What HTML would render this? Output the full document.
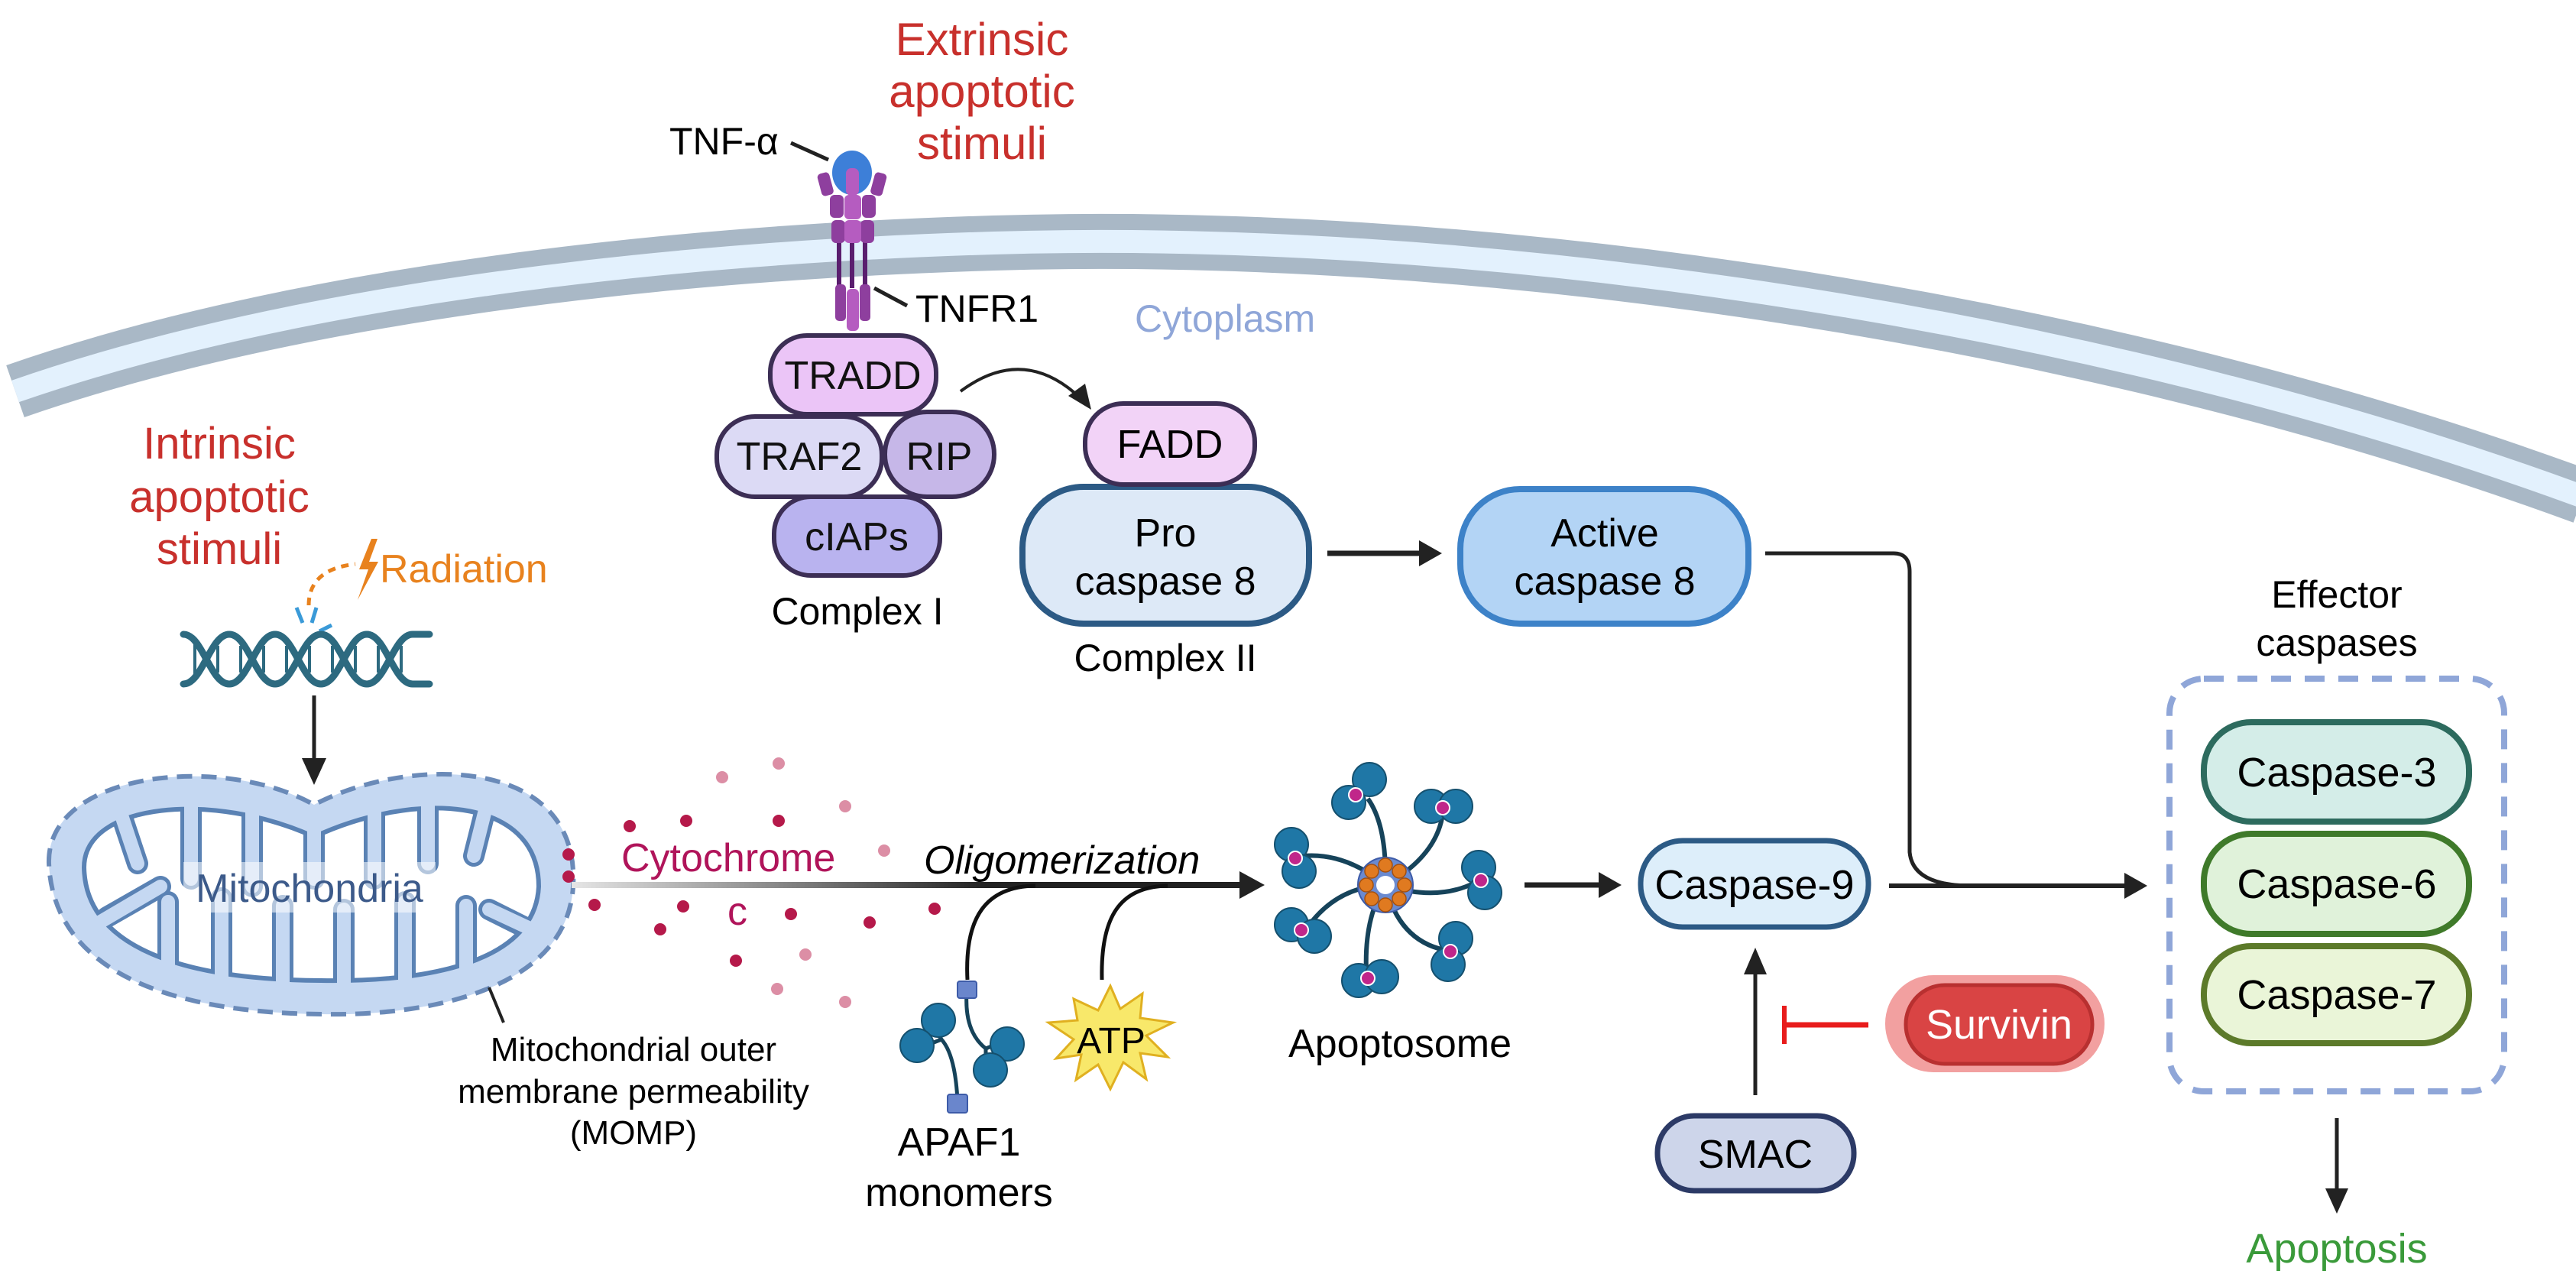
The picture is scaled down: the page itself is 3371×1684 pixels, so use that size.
<!DOCTYPE html>
<html><head><meta charset="utf-8"><style>
html,body{margin:0;padding:0;background:#fff;}
svg{display:block;}
text{font-family:"Liberation Sans",sans-serif;}
</style></head><body>
<svg width="3371" height="1684" viewBox="0 0 3371 1684" xmlns="http://www.w3.org/2000/svg">
<defs>
<linearGradient id="ag" x1="748" y1="0" x2="1653" y2="0" gradientUnits="userSpaceOnUse">
<stop offset="0" stop-color="#e6e6e6"/><stop offset="0.35" stop-color="#777"/><stop offset="0.6" stop-color="#222"/><stop offset="1" stop-color="#222"/></linearGradient>
<clipPath id="inner"><path d="M110 1135 C110 1050 280 1035 411 1095 C540 1035 705 1040 705 1160 C700 1260 560 1285 420 1283 C240 1282 112 1240 110 1135 Z"/></clipPath>
<clipPath id="outer"><path d="M68 1130 C64 1014 290 990 411 1057 C530 994 756 989 746 1160 C738 1291 560 1326 420 1323 C220 1321 74 1266 68 1130 Z"/></clipPath>
</defs>

<!-- membrane -->
<path d="M20 512 C400 380 900 330 1300 318 C1900 300 2700 400 3380 650" fill="none" stroke="#a9b8c6" stroke-width="72"/>
<path d="M20 512 C400 380 900 330 1300 318 C1900 300 2700 400 3380 650" fill="none" stroke="#e3f1fd" stroke-width="30"/>

<!-- extrinsic -->
<g fill="#c8302c" font-size="60" text-anchor="middle">
<text x="1285" y="72">Extrinsic</text><text x="1285" y="140">apoptotic</text><text x="1285" y="208">stimuli</text></g>
<text x="876" y="202" font-size="50">TNF-α</text>
<line x1="1035" y1="187" x2="1084" y2="209" stroke="#222" stroke-width="5"/>
<text x="1198" y="421" font-size="50">TNFR1</text>
<line x1="1144" y1="377" x2="1187" y2="400" stroke="#222" stroke-width="5"/>
<!-- receptor -->
<g>
<rect x="1095" y="317" width="6" height="60" fill="#5a1e6e"/><rect x="1112" y="317" width="6" height="60" fill="#5a1e6e"/><rect x="1129" y="317" width="6" height="60" fill="#5a1e6e"/>
<rect x="1093" y="372" width="14" height="48" rx="5" fill="#8e3f9e"/><rect x="1125" y="372" width="14" height="48" rx="5" fill="#8e3f9e"/>
<rect x="1108" y="378" width="16" height="55" rx="6" fill="#b55cc0"/>
<rect x="1088" y="288" width="18" height="30" rx="6" fill="#8e3f9e"/><rect x="1126" y="288" width="18" height="30" rx="6" fill="#8e3f9e"/>
<rect x="1105" y="288" width="22" height="30" rx="6" fill="#b55cc0"/>
<rect x="1086" y="255" width="18" height="30" rx="6" fill="#8e3f9e"/><rect x="1128" y="255" width="18" height="30" rx="6" fill="#8e3f9e"/>
<rect x="1105" y="255" width="22" height="32" rx="6" fill="#b55cc0"/>
<ellipse cx="1115" cy="226" rx="26" ry="29" fill="#3d7fd8"/>
<rect x="1072" y="226" width="16" height="30" rx="5" fill="#8e3f9e" transform="rotate(-15 1080 240)"/>
<rect x="1142" y="226" width="16" height="30" rx="5" fill="#8e3f9e" transform="rotate(15 1150 240)"/>
<rect x="1107" y="220" width="17" height="36" rx="7" fill="#b55cc0"/>
</g>
<text x="1485" y="434" font-size="50" fill="#8fa6d8">Cytoplasm</text>

<!-- complex I -->
<g stroke="#3c2e55" stroke-width="6" font-size="52" text-anchor="middle">
<rect x="1013" y="650" width="217" height="103" rx="48" fill="#b9b3ef"/>
<rect x="938" y="545" width="216" height="105" rx="50" fill="#dcdaf5"/>
<rect x="1158" y="539" width="143" height="111" rx="55" fill="#c6b7e8"/>
<rect x="1008" y="439" width="217" height="103" rx="48" fill="#ebc5f7"/>
<g stroke="none" fill="#111"><text x="1116" y="509">TRADD</text><text x="1046" y="615">TRAF2</text><text x="1229" y="615">RIP</text><text x="1121" y="720">cIAPs</text></g>
</g>
<text x="1122" y="817" font-size="50" text-anchor="middle">Complex I</text>
<path d="M1257 512 Q1340 450 1415 522" fill="none" stroke="#222" stroke-width="4"/>
<polygon points="1428,536 1398,518 1420,502" fill="#222"/>

<!-- complex II -->
<rect x="1338" y="637" width="375" height="179" rx="80" fill="#dde9f7" stroke="#2c5a85" stroke-width="8"/>
<rect x="1420" y="528" width="222" height="106" rx="50" fill="#f2d3f7" stroke="#3c2e55" stroke-width="6"/>
<g font-size="52" text-anchor="middle"><text x="1531" y="599">FADD</text><text x="1525" y="715">Pro</text><text x="1525" y="778">caspase 8</text></g>
<text x="1525" y="878" font-size="50" text-anchor="middle">Complex II</text>
<line x1="1737" y1="724" x2="1860" y2="724" stroke="#222" stroke-width="7"/><polygon points="1887,724 1857,707 1857,741" fill="#222"/>
<rect x="1911" y="640" width="377" height="176" rx="78" fill="#b3d4f5" stroke="#3d82c8" stroke-width="8"/>
<g font-size="52" text-anchor="middle"><text x="2100" y="715">Active</text><text x="2100" y="778">caspase 8</text></g>
<path d="M2310 724 H2478 Q2499 724 2499 748 V1115 Q2503 1159 2580 1159" fill="none" stroke="#222" stroke-width="5"/>

<!-- effector -->
<g font-size="50" text-anchor="middle"><text x="3058" y="795">Effector</text><text x="3058" y="858">caspases</text></g>
<rect x="2839" y="888" width="438" height="540" rx="45" fill="none" stroke="#8fa6d8" stroke-width="8" stroke-dasharray="26 18"/>
<rect x="2884" y="945" width="347" height="130" rx="62" fill="#d4ede8" stroke="#2d6b5e" stroke-width="8"/>
<rect x="2884" y="1091" width="347" height="131" rx="62" fill="#e0f2da" stroke="#3f7a2a" stroke-width="8"/>
<rect x="2884" y="1238" width="347" height="127" rx="62" fill="#eaf5d8" stroke="#5c7a2a" stroke-width="8"/>
<g font-size="54" text-anchor="middle"><text x="3058" y="1029">Caspase-3</text><text x="3058" y="1175">Caspase-6</text><text x="3058" y="1320">Caspase-7</text></g>
<line x1="3058" y1="1463" x2="3058" y2="1560" stroke="#222" stroke-width="5"/><polygon points="3058,1588 3043,1555 3073,1555" fill="#222"/>
<text x="3058" y="1652" font-size="54" text-anchor="middle" fill="#3a9a3a">Apoptosis</text>

<!-- caspase 9 -->
<line x1="1995" y1="1158" x2="2095" y2="1158" stroke="#222" stroke-width="7"/><polygon points="2122,1158 2092,1141 2092,1175" fill="#222"/>
<rect x="2147" y="1100" width="298" height="113" rx="55" fill="#ddeefa" stroke="#2c5a85" stroke-width="7"/>
<text x="2296" y="1176" font-size="54" text-anchor="middle">Caspase-9</text>
<line x1="2472" y1="1159" x2="2790" y2="1159" stroke="#222" stroke-width="6"/><polygon points="2810,1159 2780,1142 2780,1176" fill="#222"/>
<line x1="2297" y1="1433" x2="2297" y2="1268" stroke="#222" stroke-width="5"/><polygon points="2297,1240 2282,1275 2312,1275" fill="#222"/>
<rect x="2169" y="1460" width="257" height="98" rx="48" fill="#cdd5ea" stroke="#2c3a66" stroke-width="7"/>
<text x="2297" y="1528" font-size="52" text-anchor="middle">SMAC</text>
<rect x="2467" y="1276" width="287" height="127" rx="63" fill="#f2a0a0"/>
<rect x="2494" y="1289" width="244" height="103" rx="51" fill="#d94444" stroke="#b83030" stroke-width="5"/>
<text x="2616" y="1359" font-size="54" text-anchor="middle" fill="#fff">Survivin</text>
<line x1="2335" y1="1341" x2="2445" y2="1341" stroke="#e81c1c" stroke-width="7"/><line x1="2335" y1="1316" x2="2335" y2="1366" stroke="#e81c1c" stroke-width="6"/>

<!-- apoptosome -->
<g stroke="#16435a" stroke-width="6" fill="none">
<path d="M1813 1158 Q1815 1080 1790 1045"/><path d="M1813 1158 Q1880 1120 1888 1065"/>
<path d="M1813 1158 Q1760 1115 1705 1120"/><path d="M1813 1158 Q1880 1180 1930 1155"/>
<path d="M1813 1158 Q1750 1160 1712 1212"/><path d="M1813 1158 Q1830 1230 1890 1243"/>
<path d="M1813 1158 Q1785 1200 1788 1272"/>
</g>
<g fill="#1f77a6" stroke="#15506e" stroke-width="2">
<circle cx="1792" cy="1020" r="22"/><circle cx="1765" cy="1050" r="22"/>
<circle cx="1873" cy="1055" r="22"/><circle cx="1905" cy="1055" r="22"/>
<circle cx="1690" cy="1105" r="22"/><circle cx="1700" cy="1140" r="22"/>
<circle cx="1935" cy="1135" r="22"/><circle cx="1943" cy="1168" r="22"/>
<circle cx="1690" cy="1210" r="22"/><circle cx="1720" cy="1225" r="22"/>
<circle cx="1905" cy="1228" r="22"/><circle cx="1895" cy="1262" r="22"/>
<circle cx="1778" cy="1283" r="22"/><circle cx="1808" cy="1278" r="22"/>
</g>
<g fill="#c0268a" stroke="#fff" stroke-width="2">
<circle cx="1774" cy="1040" r="9"/><circle cx="1888" cy="1057" r="9"/><circle cx="1695" cy="1123" r="9"/><circle cx="1938" cy="1152" r="9"/><circle cx="1703" cy="1217" r="9"/><circle cx="1898" cy="1245" r="9"/><circle cx="1790" cy="1280" r="9"/>
</g>
<circle cx="1813" cy="1158" r="36" fill="#6a8ad0" stroke="#3d5ba8" stroke-width="2"/>
<g fill="#e07a20" stroke="#a35010" stroke-width="1.5">
<circle cx="1813" cy="1132" r="9"/><circle cx="1831" cy="1140" r="9"/><circle cx="1838" cy="1158" r="9"/><circle cx="1831" cy="1176" r="9"/><circle cx="1813" cy="1184" r="9"/><circle cx="1795" cy="1176" r="9"/><circle cx="1788" cy="1158" r="9"/><circle cx="1795" cy="1140" r="9"/>
</g>
<circle cx="1813" cy="1158" r="12" fill="#fff"/>
<text x="1832" y="1383" font-size="52" text-anchor="middle">Apoptosome</text>

<!-- intrinsic -->
<g fill="#c8302c" font-size="58" text-anchor="middle">
<text x="287" y="600">Intrinsic</text><text x="287" y="670">apoptotic</text><text x="287" y="738">stimuli</text></g>
<text x="497" y="762" font-size="52" fill="#e8821e">Radiation</text>
<polygon points="486,705 470,745 482,745 468,785 495,735 483,735 494,705" fill="#e8821e"/>
<path d="M404 792 Q404 745 465 738" fill="none" stroke="#e8821e" stroke-width="5" stroke-dasharray="10 8"/>
<g stroke="#3a9ad8" stroke-width="5"><line x1="388" y1="795" x2="396" y2="815"/><line x1="414" y1="795" x2="408" y2="815"/><line x1="418" y1="826" x2="434" y2="818"/></g>
<!-- DNA -->
<g fill="none" stroke="#2d6a80" stroke-width="9" stroke-linecap="round">
<path d="M240 830 C265 830 275 895 300 895 C325 895 335 830 360 830 C385 830 395 895 420 895 C445 895 455 830 480 830 C505 830 515 895 540 895 L562 895"/>
<path d="M240 895 C265 895 275 830 300 830 C325 830 335 895 360 895 C385 895 395 830 420 830 C445 830 455 895 480 895 C505 895 515 830 540 830 L562 830"/>
</g>
<g stroke="#2d6a80" stroke-width="4">
<line x1="255" y1="842" x2="255" y2="883"/><line x1="285" y1="845" x2="285" y2="880"/><line x1="315" y1="845" x2="315" y2="880"/><line x1="345" y1="845" x2="345" y2="880"/><line x1="375" y1="845" x2="375" y2="880"/><line x1="405" y1="845" x2="405" y2="880"/><line x1="435" y1="845" x2="435" y2="880"/><line x1="465" y1="845" x2="465" y2="880"/><line x1="495" y1="845" x2="495" y2="880"/><line x1="525" y1="845" x2="525" y2="880"/>
</g>
<line x1="411" y1="910" x2="411" y2="1000" stroke="#222" stroke-width="5"/><polygon points="411,1027 395,992 427,992" fill="#222"/>

<!-- mitochondria -->
<path d="M64 1130 C60 1010 290 985 411 1053 C530 990 760 985 750 1160 C742 1295 560 1330 420 1327 C220 1325 70 1270 64 1130 Z" fill="#c5d8f2"/>
<path d="M110 1135 C110 1050 280 1035 411 1095 C540 1035 705 1040 705 1160 C700 1260 560 1285 420 1283 C240 1282 112 1240 110 1135 Z" fill="#fff" stroke="#5a82b4" stroke-width="6"/>
<g clip-path="url(#inner)" stroke="#5a82b4" stroke-width="28" stroke-linecap="round">
<line x1="150" y1="1040" x2="180" y2="1130"/><line x1="250" y1="1030" x2="250" y2="1150"/><line x1="330" y1="1040" x2="330" y2="1160"/><line x1="411" y1="1060" x2="411" y2="1150"/><line x1="490" y1="1040" x2="490" y2="1150"/><line x1="560" y1="1030" x2="560" y2="1130"/><line x1="640" y1="1040" x2="620" y2="1120"/>
<line x1="140" y1="1200" x2="210" y2="1160"/><line x1="220" y1="1300" x2="220" y2="1180"/><line x1="290" y1="1300" x2="290" y2="1175"/><line x1="370" y1="1300" x2="370" y2="1185"/><line x1="450" y1="1300" x2="450" y2="1190"/><line x1="530" y1="1300" x2="530" y2="1180"/><line x1="610" y1="1300" x2="610" y2="1185"/><line x1="700" y1="1220" x2="640" y2="1190"/>
</g>
<g clip-path="url(#outer)" stroke="#c5d8f2" stroke-width="18" stroke-linecap="round">
<line x1="145" y1="1025" x2="180" y2="1130"/><line x1="250" y1="1010" x2="250" y2="1150"/><line x1="330" y1="1020" x2="330" y2="1160"/><line x1="411" y1="1060" x2="411" y2="1150"/><line x1="490" y1="1020" x2="490" y2="1150"/><line x1="560" y1="1010" x2="560" y2="1130"/><line x1="645" y1="1020" x2="620" y2="1120"/>
<line x1="125" y1="1210" x2="210" y2="1160"/><line x1="220" y1="1310" x2="220" y2="1180"/><line x1="290" y1="1315" x2="290" y2="1175"/><line x1="370" y1="1320" x2="370" y2="1185"/><line x1="450" y1="1320" x2="450" y2="1190"/><line x1="530" y1="1315" x2="530" y2="1180"/><line x1="610" y1="1305" x2="610" y2="1185"/><line x1="715" y1="1225" x2="640" y2="1190"/>
</g>
<path d="M64 1130 C60 1010 290 985 411 1053 C530 990 760 985 750 1160 C742 1295 560 1330 420 1327 C220 1325 70 1270 64 1130 Z" fill="none" stroke="#6a8ab8" stroke-width="6" stroke-dasharray="20 12"/>
<rect x="240" y="1128" width="330" height="66" fill="#fff" opacity="0.55"/>
<text x="405" y="1180" font-size="52" fill="#3c5a8a" text-anchor="middle">Mitochondria</text>
<line x1="640" y1="1292" x2="659" y2="1338" stroke="#222" stroke-width="4"/>
<g font-size="44" text-anchor="middle"><text x="829" y="1388">Mitochondrial outer</text><text x="829" y="1443">membrane permeability</text><text x="829" y="1497">(MOMP)</text></g>

<!-- main arrow -->
<rect x="748" y="1154" width="880" height="8" fill="url(#ag)"/>
<polygon points="1655,1158 1622,1140 1622,1176" fill="#222"/>
<text x="813" y="1140" font-size="52" fill="#b0145a">Cytochrome</text>
<text x="965" y="1210" font-size="52" fill="#b0145a" text-anchor="middle">c</text>
<text x="1209" y="1143" font-size="52" font-style="italic">Oligomerization</text>
<g fill="#b5194a">
<circle cx="744" cy="1118" r="8"/><circle cx="744" cy="1147" r="8"/><circle cx="778" cy="1184" r="8"/><circle cx="824" cy="1081" r="8"/><circle cx="898" cy="1074" r="8"/><circle cx="1019" cy="1074" r="8"/><circle cx="894" cy="1186" r="8"/><circle cx="1035" cy="1196" r="8"/><circle cx="864" cy="1216" r="8"/><circle cx="1138" cy="1207" r="8"/><circle cx="1223" cy="1189" r="8"/><circle cx="963" cy="1257" r="8"/></g>
<g fill="#dc8ea5">
<circle cx="1019" cy="999" r="8"/><circle cx="945" cy="1017" r="8"/><circle cx="1106" cy="1055" r="8"/><circle cx="1157" cy="1113" r="8"/><circle cx="1054" cy="1249" r="8"/><circle cx="1017" cy="1294" r="8"/><circle cx="1106" cy="1311" r="8"/></g>
<path d="M1266 1282 C1262 1200 1290 1160 1355 1159" fill="none" stroke="#111" stroke-width="5"/>
<path d="M1442 1282 C1440 1200 1465 1160 1528 1159" fill="none" stroke="#111" stroke-width="5"/>
<!-- APAF1 -->
<g fill="none" stroke="#16435a" stroke-width="5">
<path d="M1265 1300 Q1262 1350 1290 1372 L1305 1366 M1290 1372 L1290 1392"/>
<path d="M1232 1360 Q1250 1380 1253 1440 M1232 1360 L1222 1345 M1232 1360 L1212 1368"/></g>
<g fill="#1f77a6" stroke="#15506e" stroke-width="2">
<circle cx="1318" cy="1366" r="22"/><circle cx="1296" cy="1400" r="22"/><circle cx="1228" cy="1335" r="22"/><circle cx="1200" cy="1368" r="22"/></g>
<rect x="1253" y="1284" width="25" height="22" rx="3" fill="#6a86cc" stroke="#3d5ba8" stroke-width="2"/>
<rect x="1240" y="1432" width="26" height="24" rx="3" fill="#6a86cc" stroke="#3d5ba8" stroke-width="2"/>
<g font-size="52" text-anchor="middle"><text x="1255" y="1512">APAF1</text><text x="1255" y="1578">monomers</text></g>
<!-- ATP -->
<polygon points="1453,1290 1466,1320 1495,1300 1492,1332 1535,1338 1500,1355 1528,1383 1492,1378 1500,1412 1470,1390 1453,1425 1437,1393 1408,1413 1415,1380 1382,1385 1405,1360 1372,1338 1410,1335 1405,1307 1437,1322" fill="#f8e86a" stroke="#e0b020" stroke-width="3"/>
<text x="1454" y="1378" font-size="48" text-anchor="middle">ATP</text>
</svg>
</body></html>
